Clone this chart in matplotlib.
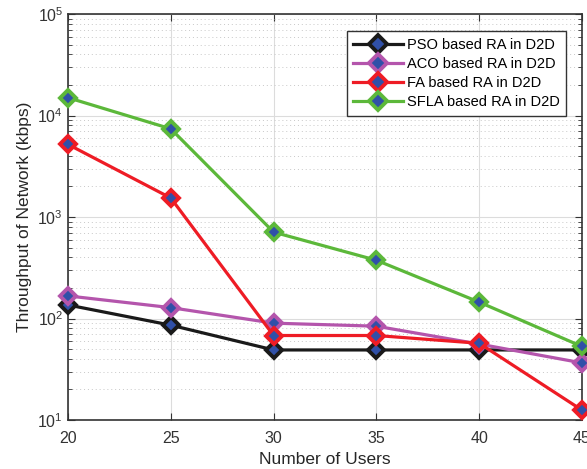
import matplotlib
matplotlib.use('Agg')
import matplotlib.pyplot as plt
from matplotlib.ticker import LogLocator, NullFormatter

plt.rcParams['font.family'] = ['Liberation Sans', 'DejaVu Sans']

users = [20, 25, 30, 35, 40, 45]
pso  = [136, 86, 49, 49, 49, 49]
aco  = [167, 128, 90, 84, 56, 36.5]
fa   = [5200, 1540, 68, 68, 57, 12.5]
sfla = [15000, 7400, 710, 375, 145, 53]

series = [
    ('PSO based RA in D2D',  pso,  '#1a1a1a'),
    ('ACO based RA in D2D',  aco,  '#b455ac'),
    ('FA based RA in D2D',   fa,   '#ee1c25'),
    ('SFLA based RA in D2D', sfla, '#5cb83a'),
]

fig = plt.figure(figsize=(5.87, 4.69), dpi=100, facecolor='white')
ax = fig.add_axes([0.1158, 0.1045, 0.8757, 0.8655])

for name, vals, col in series:
    ax.plot(users, vals, color=col, lw=2.3, marker='D', markersize=8,
            markerfacecolor='#3050a8', markeredgecolor=col, markeredgewidth=2.8,
            label=name, clip_on=False, zorder=3)

ax.set_yscale('log')
ax.set_xlim(20, 45)
ax.set_ylim(10, 1e5)
ax.set_xticks(users)
ax.yaxis.set_minor_locator(LogLocator(base=10, subs=range(2, 10)))
ax.yaxis.set_minor_formatter(NullFormatter())

ax.grid(which='major', color='#dcdcdc', lw=0.8, ls='-')
ax.grid(which='minor', axis='y', color='#c8c8c8', lw=0.7, ls=(0, (1, 3)))
ax.set_axisbelow(True)

for s in ax.spines.values():
    s.set_color('#333333')
    s.set_linewidth(1.2)
ax.tick_params(which='both', direction='in', top=True, right=True,
               colors='#333333', labelsize=11.5)
ax.tick_params(which='major', length=5)
ax.tick_params(which='minor', length=3)
ax.tick_params(axis='x', pad=8)

ax.set_xlabel('Number of Users', fontsize=12.5, color='#262626', labelpad=4)
ax.set_ylabel('Throughput of Network (kbps)', fontsize=12.5, color='#262626', labelpad=4)

leg = ax.legend(loc='upper right', bbox_to_anchor=(0.969, 0.958), fontsize=10.5,
                fancybox=False, framealpha=1, edgecolor='#333333',
                handlelength=3.4, handletextpad=0.25, borderpad=0.45,
                labelspacing=0.35, borderaxespad=0, markerscale=1.1)
leg.get_frame().set_linewidth(1.0)

fig.savefig('out.png', dpi=100, facecolor='white')
